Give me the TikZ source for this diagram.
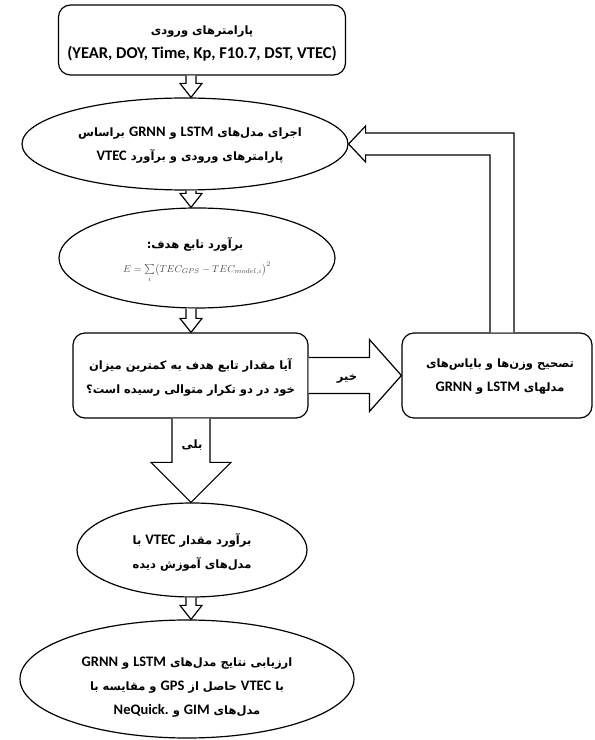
\documentclass[tikz,border=0pt]{standalone}
\usepackage{fontspec}
\setmainfont{Carlito}
\newfontfamily\arabicfont[Script=Arabic]{DejaVu Sans}
\newfontfamily\latinf{Carlito}
\TeXXeTstate=1
\usetikzlibrary{shapes.geometric,calc}
\newcommand\ar[1]{{\arabicfont\bfseries\beginR #1\endR}}
\newcommand\lt[1]{{\latinf\bfseries\fontsize{14.5pt}{24pt}\selectfont\beginL #1\endL}}
\newcommand\vblk[5]{%
  \draw[blk] let \p1=(#1), \p2=(#2) in
    (\x1-#3,\y1) -- (\x1-#3,\y2+#5) -- (\x1-#4,\y2+#5) -- (\x1,\y2) --
    (\x1+#4,\y2+#5) -- (\x1+#3,\y2+#5) -- (\x1+#3,\y1);}
\newcommand\hblk[5]{%
  \draw[blk] let \p1=(#1), \p2=(#2) in
    (\x1,\y1+#3) -- (\x2-#5,\y1+#3) -- (\x2-#5,\y1+#4) -- (\x2,\y1) --
    (\x2-#5,\y1-#4) -- (\x2-#5,\y1-#3) -- (\x1,\y1-#3);}
\tikzset{
  box/.style={draw, line width=1.2pt, rounded corners=12pt, fill=white, inner sep=0pt},
  oval/.style={draw, ellipse, line width=1.2pt, fill=white, inner sep=0pt},
  txt/.style={align=center, inner sep=0pt, font=\fontsize{11.5pt}{24pt}\selectfont},
  blk/.style={draw, line width=1.2pt, fill=white, line join=miter},
  lbl/.style={inner sep=0pt, font=\fontsize{11.5pt}{13pt}\selectfont}
}
\begin{document}
\begin{tikzpicture}[x=1pt,y=1pt]
\useasboundingbox (0,0) rectangle (595,740);
\fill[white] (0,0) rectangle (595,740);
\coordinate (col) at (191,0);

% main column
\node[box, minimum width=287pt, minimum height=70pt] (top) at (202,700) {};
\node[txt] (topt) at (202,697) {\ar{پارامترهای ورودی}\\{\latinf\bfseries\fontsize{16.5pt}{24pt}\selectfont (YEAR, DOY, Time, Kp, F10.7, DST, VTEC)}};

\node[oval, minimum width=326pt, minimum height=92pt] (e1) at (185,596) {};
\node[txt] (e1t) at (190,595) {\ar{اجرای مدل^^^^200cهای \lt{LSTM} و \lt{GRNN} براساس}\\\ar{پارامترهای ورودی و برآورد \lt{VTEC}}};

\node[oval, minimum width=276pt, minimum height=100pt] (e2) at (197,482) {};
\node[txt] (e2t) at (195,496) {\ar{برآورد تابع هدف:}};
\node[inner sep=0pt, font=\fontsize{10pt}{12pt}\selectfont, text=black!70] (e2f) at (197,468) {$E=\sum\limits_{i}\bigl(TEC_{GPS}-TEC_{model,i}\bigr)^{2}$};

\node[box, minimum width=235pt, minimum height=85pt] (dec) at (190.5,364.5) {};
\node[txt] (dect) at (190.5,363) {\ar{آیا مقدار تابع هدف به کمترین میزان}\\\ar{خود در دو تکرار متوالی رسیده است؟}};

\node[oval, minimum width=230pt, minimum height=94pt] (e3) at (192,190) {};
\node[txt] (e3t) at (192,188) {\ar{برآورد مقدار \lt{VTEC} با}\\\ar{مدل^^^^200cهای آموزش دیده}};

\node[oval, minimum width=334pt, minimum height=118pt] (e4) at (187,61) {};
\node[txt] (e4t) at (187,53) {\ar{ارزیابی نتایج مدل^^^^200cهای \lt{LSTM} و \lt{GRNN}}\\\ar{با \lt{VTEC} حاصل از \lt{GPS} و مقایسه با}\\\ar{مدل^^^^200cهای \lt{GIM} و \lt{NeQuick.}}};

% right box
\node[box, minimum width=190pt, minimum height=85pt] (rb) at (497,364.5) {};
\node[txt] (rbt) at (500,363) {\ar{تصحیح وزن^^^^200cها و بایاس^^^^200cهای}\\\ar{مدلهای \lt{LSTM} و \lt{GRNN}}};

% small hollow arrows
\vblk{top.south -| col}{e1.north -| col}{5}{11}{14}
\vblk{e1.south -| col}{e2.north -| col}{5}{11}{14}
\vblk{e2.south -| col}{dec.north -| col}{5}{11}{14}
\vblk{e3.south -| col}{e4.north -| col}{5}{11}{14}

% yes arrow
\vblk{dec.south -| col}{e3.north -| col}{19}{40}{40}
\node[lbl] (yes) at (192,295) {\ar{بلی}};

% no arrow
\hblk{dec.east}{rb.west}{18}{36}{32}
\node[lbl] (no) at (347,361) {\ar{خیر}};

% feedback arrow
\draw[blk] let \p1=(rb.north), \p2=(e1.east) in
  (490,\y1) -- (490,\y2-11) -- (\x2+17,\y2-11) -- (\x2+17,\y2-18) -- (\x2,\y2) --
  (\x2+17,\y2+18) -- (\x2+17,\y2+11) -- (514,\y2+11) -- (514,\y1);
\end{tikzpicture}
\end{document}
